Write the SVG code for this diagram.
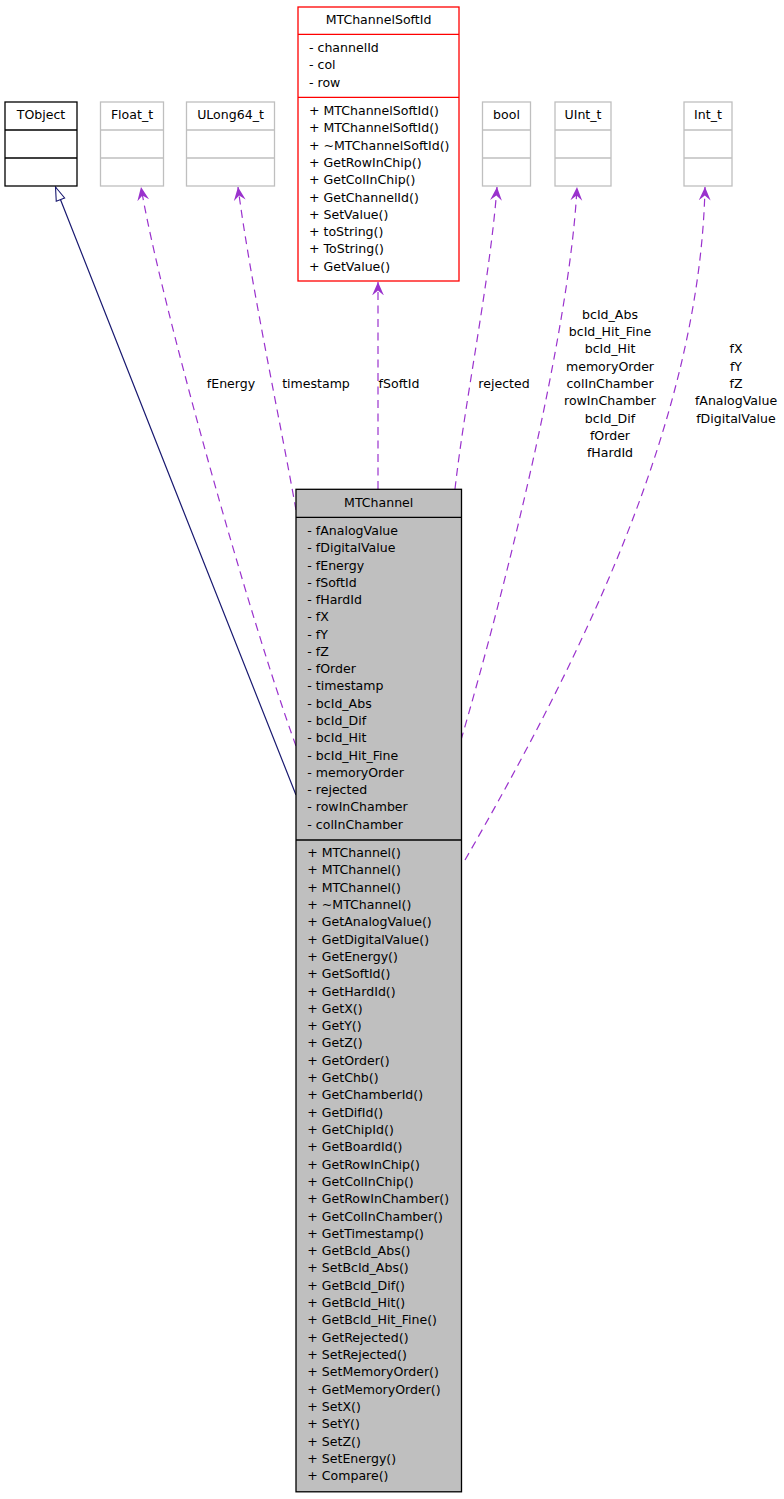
<svg xmlns="http://www.w3.org/2000/svg" width="784" height="1499" viewBox="0 0 784 1499">
<style>
text{font-family:"DejaVu Sans","Liberation Sans",sans-serif;font-size:12.55px;fill:#000}
.c{text-anchor:middle}
.box{fill:#fff;stroke-width:1.3}
.gray{stroke:#bfbfbf}
.blk{stroke:#000}
.red{stroke:#ff0000}
.main{fill:#bfbfbf;stroke:#000;stroke-width:1.3}
.dep{fill:none;stroke:#9a32cd;stroke-width:1.2;stroke-dasharray:8,5.5;marker-end:url(#vee)}
.inh{fill:none;stroke:#191970;stroke-width:1.2;marker-end:url(#tri)}
</style>
<defs>
<marker id="vee" markerUnits="userSpaceOnUse" markerWidth="14" markerHeight="13" viewBox="0 0 13 12" refX="12.5" refY="6" orient="auto">
<path d="M0,0.5 L12.5,6 L0,11.5 L4.5,6 Z" fill="#9a32cd" stroke="none"/>
</marker>
<marker id="tri" markerUnits="userSpaceOnUse" markerWidth="16" markerHeight="12" viewBox="-1 -1 16 11" refX="13.5" refY="4.5" orient="auto">
<path d="M0,0 L13.5,4.5 L0,9 Z" fill="#fff" stroke="#191970" stroke-width="1.1"/>
</marker>
</defs>

<g id="connectors">
<path class="inh" d="M296,795 C250,680 100,300 55.5,187"/>
<path class="dep" d="M296,746 C250,620 160,300 141,187"/>
<path class="dep" d="M296,510 C280,420 250,280 238,187"/>
<path class="dep" d="M378,489 L378,282"/>
<path class="dep" d="M455,489 C465,400 490,280 497,187"/>
<path class="dep" d="M461,740 C505,590 570,330 577,187"/>
<path class="dep" d="M465,860 C580,660 700,420 705,187"/>
<text class="c" x="231" y="388">fEnergy</text>
<text class="c" x="316" y="388">timestamp</text>
<text class="c" x="399" y="388">fSoftId</text>
<text class="c" x="504" y="388">rejected</text>
<text class="c" x="610" y="318.7">bcId_Abs</text>
<text class="c" x="610" y="336">bcId_Hit_Fine</text>
<text class="c" x="610" y="353.3">bcId_Hit</text>
<text class="c" x="610" y="370.6">memoryOrder</text>
<text class="c" x="610" y="388">colInChamber</text>
<text class="c" x="610" y="405.3">rowInChamber</text>
<text class="c" x="610" y="422.6">bcId_Dif</text>
<text class="c" x="610" y="440">fOrder</text>
<text class="c" x="610" y="457.3">fHardId</text>
<text class="c" x="736" y="353.3">fX</text>
<text class="c" x="736" y="370.6">fY</text>
<text class="c" x="736" y="388">fZ</text>
<text class="c" x="736" y="405.3">fAnalogValue</text>
<text class="c" x="736" y="422.6">fDigitalValue</text>
</g>

<g id="TObject">
<rect class="box blk" x="5" y="102" width="72" height="84"/>
<line class="blk" x1="5" y1="130" x2="77" y2="130" stroke-width="1.3"/>
<line class="blk" x1="5" y1="158" x2="77" y2="158" stroke-width="1.3"/>
<text class="c" x="41" y="119">TObject</text>
</g>

<g id="Float_t">
<rect class="box gray" x="100.5" y="102" width="63" height="84"/>
<line class="gray" x1="100.5" y1="130" x2="163.5" y2="130" stroke-width="1.3"/>
<line class="gray" x1="100.5" y1="158" x2="163.5" y2="158" stroke-width="1.3"/>
<text class="c" x="132" y="119">Float_t</text>
</g>

<g id="ULong64_t">
<rect class="box gray" x="186.5" y="102" width="88" height="84"/>
<line class="gray" x1="186.5" y1="130" x2="274.5" y2="130" stroke-width="1.3"/>
<line class="gray" x1="186.5" y1="158" x2="274.5" y2="158" stroke-width="1.3"/>
<text class="c" x="230.5" y="119">ULong64_t</text>
</g>

<g id="MTChannelSoftId">
<rect class="box red" x="298" y="7" width="161" height="274"/>
<line class="red" x1="298" y1="34.3" x2="459" y2="34.3" stroke-width="1.3"/>
<line class="red" x1="298" y1="97.3" x2="459" y2="97.3" stroke-width="1.3"/>
<text class="c" x="378.5" y="24">MTChannelSoftId</text>
<text x="309" y="52">- channelId</text>
<text x="309" y="69.3">- col</text>
<text x="309" y="86.6">- row</text>
<text x="309" y="115">+ MTChannelSoftId()</text>
<text x="309" y="132.3">+ MTChannelSoftId()</text>
<text x="309" y="149.6">+ ~MTChannelSoftId()</text>
<text x="309" y="166.9">+ GetRowInChip()</text>
<text x="309" y="184.2">+ GetColInChip()</text>
<text x="309" y="201.5">+ GetChannelId()</text>
<text x="309" y="218.8">+ SetValue()</text>
<text x="309" y="236.1">+ toString()</text>
<text x="309" y="253.4">+ ToString()</text>
<text x="309" y="270.7">+ GetValue()</text>
</g>

<g id="bool">
<rect class="box gray" x="482.5" y="102" width="48" height="84"/>
<line class="gray" x1="482.5" y1="130" x2="530.5" y2="130" stroke-width="1.3"/>
<line class="gray" x1="482.5" y1="158" x2="530.5" y2="158" stroke-width="1.3"/>
<text class="c" x="506.5" y="119">bool</text>
</g>

<g id="UInt_t">
<rect class="box gray" x="555" y="102" width="56" height="84"/>
<line class="gray" x1="555" y1="130" x2="611" y2="130" stroke-width="1.3"/>
<line class="gray" x1="555" y1="158" x2="611" y2="158" stroke-width="1.3"/>
<text class="c" x="583" y="119">UInt_t</text>
</g>

<g id="Int_t">
<rect class="box gray" x="684" y="102" width="48" height="84"/>
<line class="gray" x1="684" y1="130" x2="732" y2="130" stroke-width="1.3"/>
<line class="gray" x1="684" y1="158" x2="732" y2="158" stroke-width="1.3"/>
<text class="c" x="708" y="119">Int_t</text>
</g>

<g id="MTChannel">
<rect class="main" x="296" y="489.3" width="165.5" height="1002.5"/>
<line x1="296" y1="517.3" x2="461.5" y2="517.3" stroke="#000" stroke-width="1.3"/>
<line x1="296" y1="840" x2="461.5" y2="840" stroke="#000" stroke-width="1.6"/>
<text class="c" x="378.7" y="507">MTChannel</text>
<text x="307.3" y="535">- fAnalogValue</text>
<text x="307.3" y="552.3">- fDigitalValue</text>
<text x="307.3" y="569.5">- fEnergy</text>
<text x="307.3" y="586.8">- fSoftId</text>
<text x="307.3" y="604.1">- fHardId</text>
<text x="307.3" y="621.4">- fX</text>
<text x="307.3" y="638.6">- fY</text>
<text x="307.3" y="655.9">- fZ</text>
<text x="307.3" y="673.2">- fOrder</text>
<text x="307.3" y="690.4">- timestamp</text>
<text x="307.3" y="707.7">- bcId_Abs</text>
<text x="307.3" y="725">- bcId_Dif</text>
<text x="307.3" y="742.2">- bcId_Hit</text>
<text x="307.3" y="759.5">- bcId_Hit_Fine</text>
<text x="307.3" y="776.8">- memoryOrder</text>
<text x="307.3" y="794.1">- rejected</text>
<text x="307.3" y="811.3">- rowInChamber</text>
<text x="307.3" y="828.6">- colInChamber</text>
<text x="307.3" y="857">+ MTChannel()</text>
<text x="307.3" y="874.3">+ MTChannel()</text>
<text x="307.3" y="891.6">+ MTChannel()</text>
<text x="307.3" y="908.9">+ ~MTChannel()</text>
<text x="307.3" y="926.2">+ GetAnalogValue()</text>
<text x="307.3" y="943.6">+ GetDigitalValue()</text>
<text x="307.3" y="960.9">+ GetEnergy()</text>
<text x="307.3" y="978.2">+ GetSoftId()</text>
<text x="307.3" y="995.5">+ GetHardId()</text>
<text x="307.3" y="1012.8">+ GetX()</text>
<text x="307.3" y="1030.1">+ GetY()</text>
<text x="307.3" y="1047.4">+ GetZ()</text>
<text x="307.3" y="1064.7">+ GetOrder()</text>
<text x="307.3" y="1082">+ GetChb()</text>
<text x="307.3" y="1099.3">+ GetChamberId()</text>
<text x="307.3" y="1116.7">+ GetDifId()</text>
<text x="307.3" y="1134">+ GetChipId()</text>
<text x="307.3" y="1151.3">+ GetBoardId()</text>
<text x="307.3" y="1168.6">+ GetRowInChip()</text>
<text x="307.3" y="1185.9">+ GetColInChip()</text>
<text x="307.3" y="1203.2">+ GetRowInChamber()</text>
<text x="307.3" y="1220.5">+ GetColInChamber()</text>
<text x="307.3" y="1237.8">+ GetTimestamp()</text>
<text x="307.3" y="1255.1">+ GetBcId_Abs()</text>
<text x="307.3" y="1272.4">+ SetBcId_Abs()</text>
<text x="307.3" y="1289.8">+ GetBcId_Dif()</text>
<text x="307.3" y="1307.1">+ GetBcId_Hit()</text>
<text x="307.3" y="1324.4">+ GetBcId_Hit_Fine()</text>
<text x="307.3" y="1341.7">+ GetRejected()</text>
<text x="307.3" y="1359">+ SetRejected()</text>
<text x="307.3" y="1376.3">+ SetMemoryOrder()</text>
<text x="307.3" y="1393.6">+ GetMemoryOrder()</text>
<text x="307.3" y="1410.9">+ SetX()</text>
<text x="307.3" y="1428.2">+ SetY()</text>
<text x="307.3" y="1445.5">+ SetZ()</text>
<text x="307.3" y="1462.8">+ SetEnergy()</text>
<text x="307.3" y="1480">+ Compare()</text>
</g>
</svg>
